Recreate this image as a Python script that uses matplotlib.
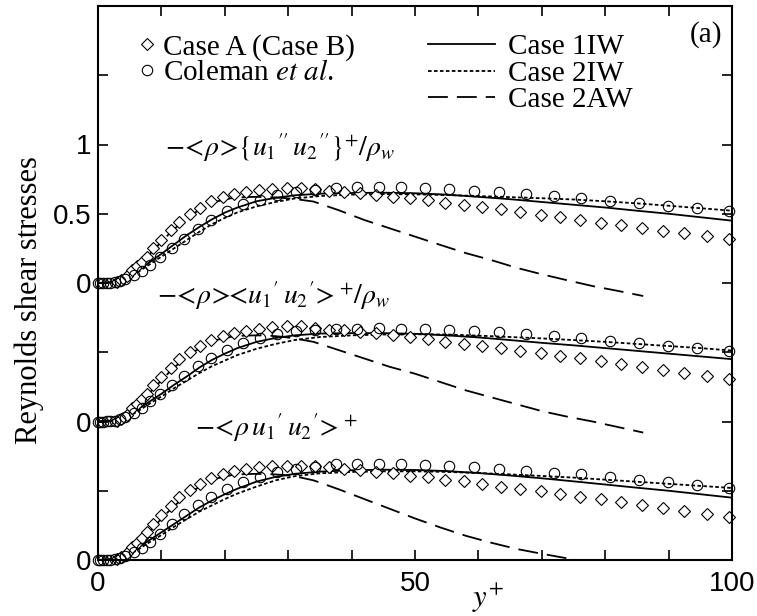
import matplotlib
matplotlib.use("Agg")
import matplotlib.pyplot as plt
from matplotlib.lines import Line2D

plt.rcParams['mathtext.fontset'] = 'stix'
SERIF = 'Liberation Serif'
SANS = 'Liberation Sans'

# ---------------- data ----------------
# stacking offsets of the three profiles
offsets = [2.0, 1.0, 0.0]   # top, middle, bottom

x_line = [0, 2, 3, 4, 5, 6, 7, 8, 10, 12, 14, 16, 18, 20, 22, 25, 28, 31, 35,
          40, 45, 50, 55, 60, 65, 70, 75, 80, 85, 90, 95, 100]
x_dash = [0, 3, 5, 7, 9, 11, 13, 15, 17, 19, 21, 23, 25, 27, 29, 31, 34, 38,
          42, 46, 50, 54, 58, 62, 66, 70, 74, 78, 82, 86]
x_circ = [0, 0.3, 0.8, 1.4, 1.9, 2.7, 3.5, 4.3, 5.6, 6.9, 8.2, 9.8, 11.6, 13.6,
          15.7, 17.9, 20.3, 22.8, 25.6, 28.3, 31.2, 34.2, 37.6, 40.8, 44.3,
          47.8, 51.6, 55.4, 59.3, 63.3, 67.5, 71.9, 76.2, 80.7, 85.3, 89.9,
          94.5, 99.5]
x_diam = [3.0, 3.7, 4.5, 5.3, 6.1, 6.9, 7.7, 8.7, 9.9, 11.5, 12.8, 14.5, 16.1,
          17.8, 19.7, 21.5, 23.3, 25.4, 27.5, 29.8, 32.0, 34.2, 36.5, 38.8,
          41.3, 43.9, 46.6, 49.2, 52.0, 54.8, 57.7, 60.6, 63.6, 66.6, 69.8,
          72.9, 76.1, 79.3, 82.5, 85.8, 89.1, 92.5, 96.0, 99.5]

# top: -<rho>{u1'' u2''}+/rho_w
top_1iw = [0, 0.003, 0.012, 0.027, 0.05, 0.08, 0.113, 0.145, 0.21, 0.278, 0.345,
           0.405, 0.46, 0.508, 0.545, 0.59, 0.615, 0.633, 0.645, 0.65, 0.652,
           0.648, 0.638, 0.622, 0.605, 0.585, 0.565, 0.545, 0.522, 0.5, 0.475, 0.45]
top_2iw = [0, 0.003, 0.01, 0.024, 0.045, 0.07, 0.1, 0.13, 0.19, 0.25, 0.31,
           0.37, 0.425, 0.47, 0.51, 0.553, 0.585, 0.61, 0.628, 0.638, 0.642,
           0.64, 0.635, 0.628, 0.62, 0.612, 0.603, 0.59, 0.575, 0.558, 0.54, 0.522]
top_2aw = [0, 0.01, 0.07, 0.15, 0.25, 0.345, 0.43, 0.5, 0.555, 0.592, 0.612,
           0.62, 0.622, 0.62, 0.615, 0.607, 0.588, 0.525, 0.455, 0.395, 0.335,
           0.275, 0.216, 0.166, 0.11, 0.063, 0.02, -0.022, -0.057, -0.094]
top_coleman = [0, 0, 0, 0.001, 0.002, 0.007, 0.017, 0.03, 0.058, 0.09, 0.13,
               0.19, 0.25, 0.32, 0.39, 0.456, 0.517, 0.57, 0.6, 0.638, 0.657,
               0.675, 0.684, 0.694, 0.696, 0.696, 0.686, 0.677, 0.667, 0.658,
               0.643, 0.629, 0.612, 0.595, 0.576, 0.557, 0.54, 0.52]
top_caseA = [0.005, 0.02, 0.05, 0.094, 0.123, 0.155, 0.19, 0.25, 0.31, 0.384,
             0.44, 0.5, 0.545, 0.59, 0.618, 0.643, 0.657, 0.67, 0.68, 0.686,
             0.688, 0.68, 0.667, 0.66, 0.648, 0.636, 0.624, 0.612, 0.6, 0.58,
             0.564, 0.547, 0.532, 0.516, 0.49, 0.475, 0.455, 0.436, 0.42, 0.395,
             0.378, 0.359, 0.34, 0.315]

# middle: -<rho><u1' u2'>+/rho_w
mid_1iw = [0, 0.003, 0.012, 0.027, 0.05, 0.08, 0.11, 0.14, 0.2, 0.265, 0.325,
           0.39, 0.445, 0.49, 0.53, 0.575, 0.603, 0.622, 0.635, 0.638, 0.638,
           0.633, 0.622, 0.607, 0.588, 0.568, 0.55, 0.53, 0.51, 0.49, 0.47, 0.45]
mid_2iw = [0, 0.003, 0.01, 0.022, 0.042, 0.066, 0.095, 0.125, 0.18, 0.24, 0.295,
           0.35, 0.4, 0.44, 0.48, 0.525, 0.56, 0.588, 0.61, 0.622, 0.628,
           0.63, 0.628, 0.62, 0.61, 0.6, 0.588, 0.575, 0.56, 0.545, 0.53, 0.512]
mid_2aw = [0, 0.01, 0.07, 0.15, 0.25, 0.345, 0.43, 0.5, 0.555, 0.592, 0.612,
           0.62, 0.622, 0.62, 0.612, 0.6, 0.575, 0.515, 0.455, 0.395, 0.345,
           0.285, 0.225, 0.175, 0.125, 0.075, 0.035, 0.0, -0.04, -0.08]
mid_coleman = [0, 0, 0, 0.001, 0.002, 0.007, 0.017, 0.03, 0.058, 0.1, 0.147,
               0.2, 0.26, 0.33, 0.4, 0.46, 0.513, 0.568, 0.6, 0.633, 0.652,
               0.664, 0.665, 0.67, 0.674, 0.67, 0.667, 0.662, 0.655, 0.643,
               0.63, 0.62, 0.6, 0.583, 0.567, 0.548, 0.53, 0.512]
mid_caseA = [0.005, 0.02, 0.05, 0.094, 0.125, 0.16, 0.2, 0.26, 0.322, 0.383,
             0.448, 0.5, 0.544, 0.585, 0.616, 0.64, 0.657, 0.669, 0.683, 0.688,
             0.688, 0.675, 0.662, 0.66, 0.648, 0.636, 0.624, 0.607, 0.593, 0.576,
             0.56, 0.545, 0.529, 0.512, 0.493, 0.471, 0.455, 0.436, 0.417, 0.393,
             0.374, 0.352, 0.33, 0.31]

# bottom: -<rho u1' u2'>+
bot_1iw = [0, 0.003, 0.012, 0.027, 0.05, 0.08, 0.11, 0.14, 0.2, 0.26, 0.32,
           0.38, 0.43, 0.475, 0.515, 0.566, 0.6, 0.622, 0.638, 0.648, 0.652,
           0.65, 0.642, 0.628, 0.61, 0.59, 0.568, 0.545, 0.522, 0.5, 0.475, 0.45]
bot_2iw = [0, 0.003, 0.01, 0.022, 0.042, 0.066, 0.095, 0.125, 0.18, 0.24, 0.295,
           0.35, 0.395, 0.44, 0.48, 0.53, 0.575, 0.605, 0.626, 0.636, 0.64,
           0.64, 0.636, 0.628, 0.618, 0.607, 0.595, 0.58, 0.565, 0.55, 0.535, 0.52]
bot_2aw = [0, 0.01, 0.07, 0.15, 0.25, 0.345, 0.43, 0.5, 0.555, 0.592, 0.612,
           0.62, 0.622, 0.62, 0.615, 0.605, 0.575, 0.51, 0.44, 0.37, 0.3,
           0.235, 0.175, 0.125, 0.08, 0.045, 0.012, -0.02, -0.055, -0.09]
bot_coleman = [0, 0, 0, 0.001, 0.002, 0.007, 0.017, 0.03, 0.058, 0.09, 0.132,
               0.188, 0.258, 0.33, 0.397, 0.457, 0.513, 0.56, 0.6, 0.638, 0.657,
               0.674, 0.69, 0.69, 0.69, 0.69, 0.688, 0.68, 0.67, 0.655, 0.645,
               0.63, 0.62, 0.6, 0.58, 0.56, 0.54, 0.52]
bot_caseA = [0.005, 0.02, 0.05, 0.094, 0.125, 0.16, 0.2, 0.258, 0.325, 0.392,
             0.452, 0.505, 0.549, 0.59, 0.618, 0.643, 0.657, 0.669, 0.679, 0.68,
             0.68, 0.678, 0.675, 0.66, 0.65, 0.632, 0.625, 0.61, 0.6, 0.58,
             0.57, 0.55, 0.53, 0.515, 0.495, 0.475, 0.455, 0.44, 0.42, 0.395,
             0.375, 0.355, 0.335, 0.31]

panels_1iw = [top_1iw, mid_1iw, bot_1iw]
panels_2iw = [top_2iw, mid_2iw, bot_2iw]
panels_2aw = [top_2aw, mid_2aw, bot_2aw]
panels_coleman = [top_coleman, mid_coleman, bot_coleman]
panels_caseA = [top_caseA, mid_caseA, bot_caseA]

panel_labels = [r"$-\!<\!\rho\!>\!\{u_{\mathit{1}}{}^{\prime\prime}\,u_{\mathit{2}}{}^{\prime\prime}\}^{+}/\rho_{w}$",
                r"$-\!<\!\rho\!>\!\!\!<\!u_{\mathit{1}}{}^{\prime}\,u_{\mathit{2}}{}^{\prime}\!>^{+}/\rho_{w}$",
                r"$-\!<\!\rho\,u_{\mathit{1}}{}^{\prime}\,u_{\mathit{2}}{}^{\prime}\!>^{+}$"]
label_pos = [(10.6, 2.975), (9.3, 1.91), (15.3, 0.953)]

xticks = [0, 10, 20, 30, 40, 50, 60, 70, 80, 90, 100]
xticklabels = ['0', '', '', '', '', '50', '', '', '', '', '100']
yticks = [0, 0.5, 1.0, 1.5, 2.0, 2.5, 3.0, 3.5]
yticklabels = ['0', '', '0', '', '0', '0.5', '1', '']

# ---------------- figure ----------------
fig = plt.figure(figsize=(7.57, 6.16), dpi=100)
ax = fig.add_axes([98/757, 56/616, 634/757, 554/616])

lw = 1.3
ms_d, ms_o = 6.3, 7.5
for i, off in enumerate(offsets):
    ax.plot(x_line, [v + off for v in panels_1iw[i]], color='black', lw=lw,
            ls='-', label='Case 1IW' if i == 0 else None)
    ax.plot(x_line, [v + off for v in panels_2iw[i]], color='black', lw=lw,
            ls=(0, (2.0, 1.3)), label='Case 2IW' if i == 0 else None)
    ax.plot(x_dash, [v + off for v in panels_2aw[i]], color='black', lw=lw,
            ls=(0, (11, 5)), label='Case 2AW' if i == 0 else None)
    ax.plot(x_diam, [v + off for v in panels_caseA[i]], ls='none', marker='D',
            ms=ms_d, mfc='white', mec='black', mew=0.8, clip_on=False)
    ax.plot(x_circ, [v + off for v in panels_coleman[i]], ls='none', marker='o',
            ms=ms_o, mfc='none', mec='black', mew=0.8, clip_on=False)
    ax.text(label_pos[i][0], label_pos[i][1], panel_labels[i], fontsize=20,
            ha='left', va='center')

ax.set_xlim(0, 100)
ax.set_ylim(0, 4)
ax.set_xticks(xticks)
ax.set_xticklabels(xticklabels, fontfamily=SANS, fontsize=20)
ax.set_yticks(yticks)
ax.set_yticklabels(yticklabels, fontfamily=SANS, fontsize=20)
ax.tick_params(direction='in', length=7, width=1.2, top=True, right=True)
ax.tick_params(axis='x', pad=8)
ax.tick_params(axis='y', pad=5)
for s in ax.spines.values():
    s.set_linewidth(1.5)

ax.set_xlabel(r"$y^{+}$", fontsize=22)
ax.xaxis.set_label_coords((488-98)/634, -0.04)
ax.set_ylabel("Reynolds shear stresses", fontfamily=SERIF, fontsize=22)
ax.yaxis.set_label_coords(-0.085, 0.469)

# legends
h_diam = Line2D([], [], ls='none', marker='D', ms=ms_d, mfc='white', mec='black', mew=0.8)
h_circ = Line2D([], [], ls='none', marker='o', ms=ms_o, mfc='none', mec='black', mew=0.8)
leg1 = ax.legend([h_diam, h_circ], ["Case A (Case B)", r"Coleman $\mathit{et\ al}$."],
                 loc='upper left', bbox_to_anchor=((140-98)/634, (560-34)/554),
                 frameon=False, handlelength=0.5, handletextpad=0.3,
                 borderpad=0, borderaxespad=0, labelspacing=-0.04,
                 prop={'family': SERIF, 'size': 21})
ax.add_artist(leg1)
ax.legend(loc='upper left', bbox_to_anchor=((428-98)/634, (560-34)/554),
          frameon=False, handlelength=2.3, handletextpad=0.45,
          borderpad=0, borderaxespad=0, labelspacing=0.0,
          prop={'family': SERIF, 'size': 21})

ax.text((722-98)/634, (560-35)/554, "(a)", transform=ax.transAxes,
        fontfamily=SERIF, fontsize=21, ha='right', va='center')

fig.savefig("out.png", dpi=100)
